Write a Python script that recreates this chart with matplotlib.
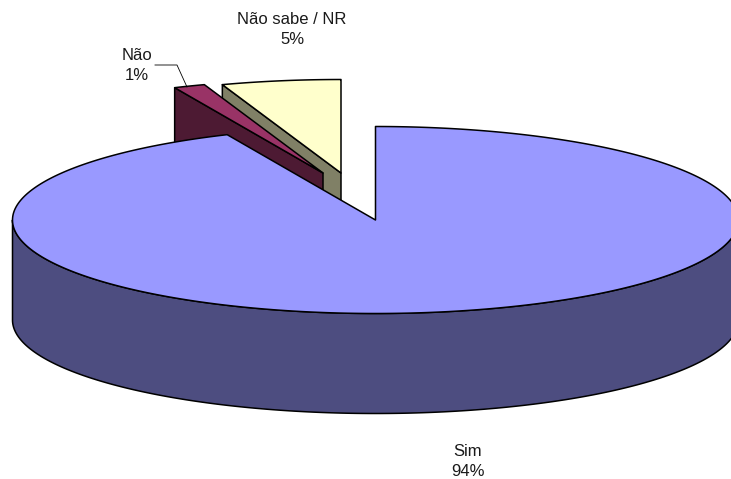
import numpy as np
import matplotlib
matplotlib.use("Agg")
import matplotlib.pyplot as plt
from matplotlib.patches import Polygon

categories = ["Sim", "Não", "Não sabe / NR"]
values = [93.3, 1.4, 5.3]
labels = ["94%", "1%", "5%"]
top_colors = ["#9999FF", "#993366", "#FFFFCC"]
side_colors = ["#4D4D80", "#4D1A33", "#808066"]
centers = [(375.5, 220), (323, 173), (341, 173)]
label_pos = [(468, 461.5), (137, 65.5), (292, 29.5)]

RX, RY, DEPTH = 363, 93.5, 100
LW = 1.1

fig = plt.figure(figsize=(7.31, 4.79), dpi=100, facecolor="white")
ax = fig.add_axes([0, 0, 1, 1])
ax.set_xlim(0, 731)
ax.set_ylim(479, 0)
ax.axis("off")


def arc(center, a0, a1, dy=0.0):
    """Ellipse arc; angles in degrees, clockwise from 12 o'clock."""
    t = np.radians(np.linspace(a0, a1, 400))
    return np.column_stack([center[0] + RX * np.sin(t),
                            center[1] - RY * np.cos(t) + dy])


def poly(pts, color, z):
    ax.add_patch(Polygon(pts, closed=True, facecolor=color, edgecolor="black",
                         linewidth=LW, joinstyle="round", zorder=z))


# slice angles, clockwise from 12 o'clock, starting with the first category
edges = np.concatenate([[0], np.cumsum(values)]) / sum(values) * 360
spans = list(zip(edges[:-1], edges[1:]))

# exploded slices, back to front: cut face + top
z = 1
for i in (2, 1):
    a0, a1 = spans[i]
    c = np.array(centers[i])
    outer = arc(c, a0, a0 + 0.001)[0]
    poly([outer, c, c + [0, DEPTH], outer + [0, DEPTH]], side_colors[i], z)
    poly(np.vstack([[c], arc(c, a0, a1)]), top_colors[i], z + 1)
    z += 2

# main slice: front wall + top
a0, a1 = spans[0]
c = np.array(centers[0])
front_top = arc(c, 90, 270)
front_bot = arc(c, 90, 270, dy=DEPTH)
poly(np.vstack([front_top, front_bot[::-1]]), side_colors[0], 6)
poly(np.vstack([[c], arc(c, a0, a1)]), top_colors[0], 7)

# leader line of the "Não" label
ax.plot([155, 177, 187], [65, 65, 87], color="black", lw=0.6, zorder=8,
        solid_joinstyle="miter")

for name, pct, (x, y) in zip(categories, labels, label_pos):
    ax.text(x, y, f"{name}\n{pct}", ha="center", va="center", fontsize=12,
            family="Liberation Sans", color="#1a1a1a", linespacing=1.48, zorder=9)

fig.savefig("out.png", dpi=100, facecolor="white")
